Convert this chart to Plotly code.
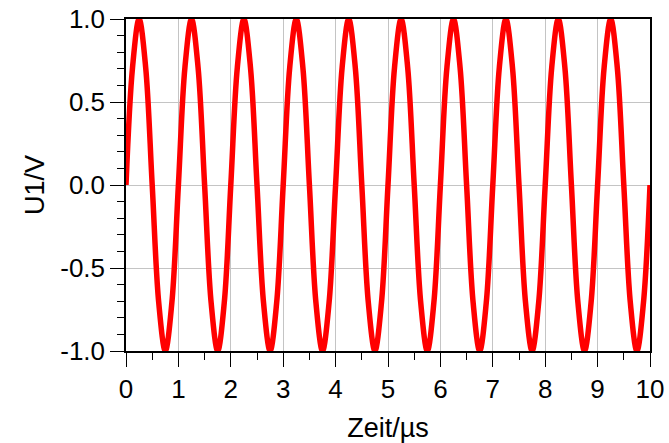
import plotly.graph_objects as go

# time in microseconds, sampled every 1/8 period (period = 1 us)
time_us = [
    0.0, 0.125, 0.25, 0.375, 0.5, 0.625, 0.75, 0.875,
    1.0, 1.125, 1.25, 1.375, 1.5, 1.625, 1.75, 1.875,
    2.0, 2.125, 2.25, 2.375, 2.5, 2.625, 2.75, 2.875,
    3.0, 3.125, 3.25, 3.375, 3.5, 3.625, 3.75, 3.875,
    4.0, 4.125, 4.25, 4.375, 4.5, 4.625, 4.75, 4.875,
    5.0, 5.125, 5.25, 5.375, 5.5, 5.625, 5.75, 5.875,
    6.0, 6.125, 6.25, 6.375, 6.5, 6.625, 6.75, 6.875,
    7.0, 7.125, 7.25, 7.375, 7.5, 7.625, 7.75, 7.875,
    8.0, 8.125, 8.25, 8.375, 8.5, 8.625, 8.75, 8.875,
    9.0, 9.125, 9.25, 9.375, 9.5, 9.625, 9.75, 9.875,
    10.0,
]

u1_volt = [
    0.0, 0.71, 1.0, 0.71, 0.0, -0.71, -1.0, -0.71,
    0.0, 0.71, 1.0, 0.71, 0.0, -0.71, -1.0, -0.71,
    0.0, 0.71, 1.0, 0.71, 0.0, -0.71, -1.0, -0.71,
    0.0, 0.71, 1.0, 0.71, 0.0, -0.71, -1.0, -0.71,
    0.0, 0.71, 1.0, 0.71, 0.0, -0.71, -1.0, -0.71,
    0.0, 0.71, 1.0, 0.71, 0.0, -0.71, -1.0, -0.71,
    0.0, 0.71, 1.0, 0.71, 0.0, -0.71, -1.0, -0.71,
    0.0, 0.71, 1.0, 0.71, 0.0, -0.71, -1.0, -0.71,
    0.0, 0.71, 1.0, 0.71, 0.0, -0.71, -1.0, -0.71,
    0.0, 0.71, 1.0, 0.71, 0.0, -0.71, -1.0, -0.71,
    0.0,
]

x_tickvals = [0, 1, 2, 3, 4, 5, 6, 7, 8, 9, 10]
y_tickvals = [-1.0, -0.5, 0.0, 0.5, 1.0]
y_ticktext = ["-1.0", "-0.5", "0.0", "0.5", "1.0"]

fig = go.Figure()
fig.add_trace(go.Scatter(
    x=time_us, y=u1_volt, mode="lines",
    line=dict(color="#ff0000", width=5.5, shape="spline", smoothing=1.0),
    showlegend=False,
))

family = "Liberation Sans, Arial, sans-serif"
tick_font = dict(family=family, size=26, color="black")
title_font = dict(family=family, size=27, color="black")

fig.update_layout(
    width=669, height=443,
    margin=dict(l=126, r=19, t=19, b=92),
    paper_bgcolor="white", plot_bgcolor="white",
    font=tick_font,
)
fig.update_xaxes(
    range=[0, 10], tickvals=x_tickvals, automargin=False,
    showline=True, linecolor="black", linewidth=1.5, mirror=True,
    ticks="outside", ticklen=14, tickcolor="black", tickwidth=1,
    showgrid=True, gridcolor="#c4c4c4", gridwidth=1,
    zeroline=False,
    minor=dict(dtick=0.5, ticks="outside", ticklen=7, tickcolor="black", showgrid=False),
    title=dict(text="Zeit/µs", standoff=20, font=title_font),
    tickfont=tick_font,
)
fig.update_yaxes(
    range=[-1, 1], tickvals=y_tickvals, ticktext=y_ticktext, automargin=False,
    showline=True, linecolor="black", linewidth=1.5, mirror=True,
    ticks="outside", ticklen=14, tickcolor="black", tickwidth=1,
    showgrid=True, gridcolor="#c4c4c4", gridwidth=1,
    zeroline=False,
    minor=dict(dtick=0.1, ticks="outside", ticklen=7, tickcolor="black", showgrid=False),
    title=dict(text="U1/V", standoff=8, font=title_font),
    tickfont=tick_font,
)

fig.write_html(
    "out.html",
    config={"displayModeBar": False},
    post_script="document.body.style.margin='0';document.body.style.overflow='hidden';",
)
